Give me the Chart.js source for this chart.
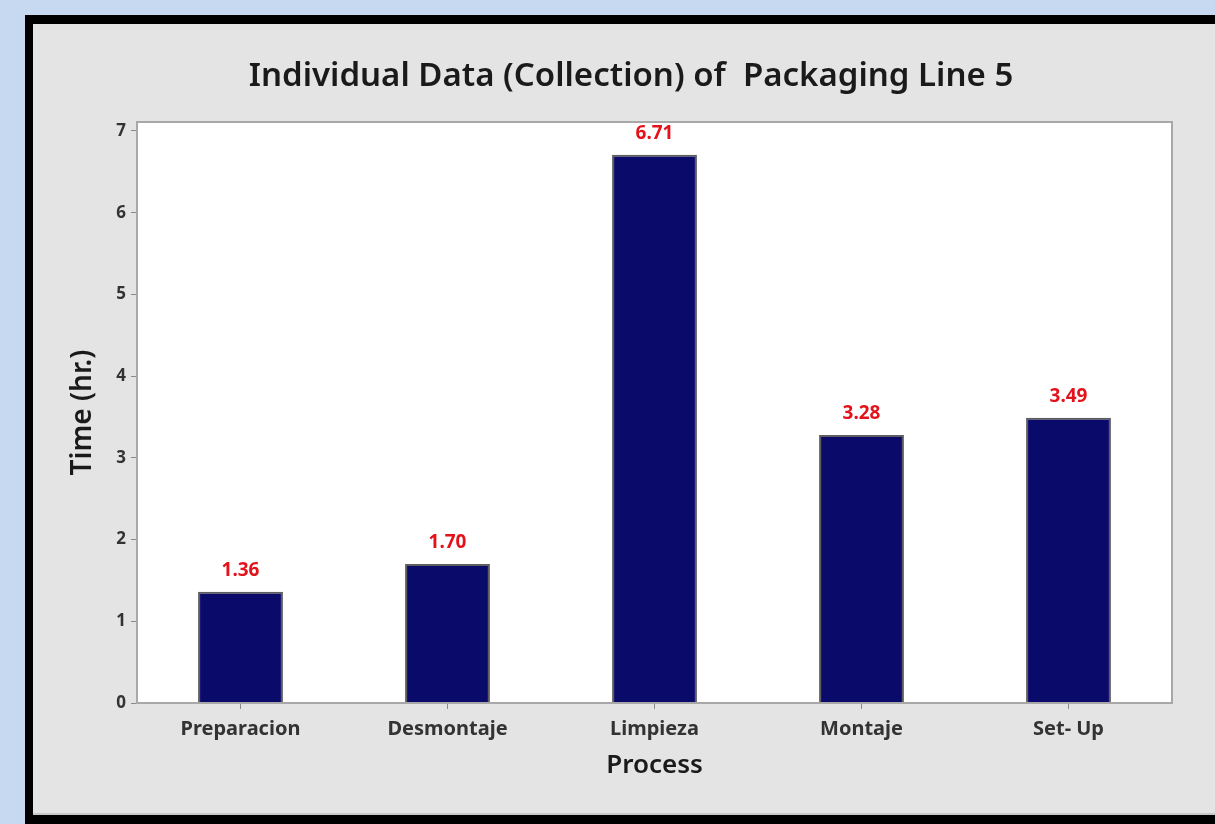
<!DOCTYPE html>
<html>
<head>
<meta charset="utf-8">
<script src="https://cdn.jsdelivr.net/npm/chart.js@4"></script>
<style>
  body { margin: 0; background: #c6d9f0; }
  canvas { display: block; }
</style>
</head>
<body>
<canvas id="myChart" width="1215" height="824"></canvas>
<script>
const processes = ['Preparacion', 'Desmontaje', 'Limpieza', 'Montaje', 'Set- Up']
const hours = [1.36, 1.70, 6.71, 3.28, 3.49]
const yTicks = [0, 1, 2, 3, 4, 5, 6, 7]
const chartTitle = 'Individual Data (Collection) of  Packaging Line 5'

const FONT = "'Noto Sans', 'Open Sans', sans-serif"

// blue page, black frame and grey panel behind the chart
const frame = {
  id: 'frame',
  beforeDraw(chart) {
    const c = chart.ctx
    c.save()
    c.fillStyle = '#c6d9f0'
    c.fillRect(0, 0, chart.width, chart.height)
    c.fillStyle = '#000'
    c.fillRect(25, 15, chart.width - 25, chart.height - 15)
    c.fillStyle = '#e4e4e4'
    c.fillRect(33, 24, chart.width - 33, 791)
    c.fillStyle = '#c8c8c8'
    c.fillRect(33, 813, chart.width - 33, 2)
    const a = chart.chartArea
    c.fillStyle = '#fff'
    c.fillRect(a.left, a.top, a.right - a.left, a.bottom - a.top)
    c.restore()
  },
  afterDraw(chart) {
    const a = chart.chartArea
    const c = chart.ctx
    c.save()
    c.strokeStyle = '#a8a8a8'
    c.lineWidth = 2
    c.strokeRect(a.left, a.top, a.right - a.left, a.bottom - a.top)
    // title, centred a bit left of the plot like the original
    c.fillStyle = '#1a1a1a'
    c.font = `600 33px ${FONT}`
    c.textAlign = 'center'
    c.textBaseline = 'middle'
    c.fillText(chartTitle, 631, 77)
    c.restore()
  }
}

// red value labels above each bar
const valueLabels = {
  id: 'valueLabels',
  afterDatasetsDraw(chart) {
    const c = chart.ctx
    const meta = chart.getDatasetMeta(0)
    c.save()
    c.fillStyle = '#e3121b'
    c.font = `bold 19px ${FONT}`
    c.textAlign = 'center'
    c.textBaseline = 'middle'
    meta.data.forEach((bar, i) => {
      c.fillText(hours[i].toFixed(2), bar.x, bar.y - 21)
    })
    c.restore()
  }
}

const ctx = document.getElementById('myChart')
new Chart(ctx, {
  type: 'bar',
  data: {
    labels: processes,
    datasets: [{
      data: hours,
      backgroundColor: '#0a0a6b',
      borderColor: '#5e5e5e',
      borderWidth: 2,
      borderSkipped: 'bottom',
      categoryPercentage: 1,
      barPercentage: 0.41
    }]
  },
  plugins: [frame, valueLabels],
  options: {
    responsive: false,
    animation: false,
    layout: { padding: { left: 33, right: 43, top: 122, bottom: 24 } },
    plugins: {
      legend: { display: false },
      tooltip: { enabled: false },
      title: { display: false }
    },
    scales: {
      x: {
        afterFit(scale) { scale.height = 97 },
        grid: { offset: false, drawOnChartArea: false, tickLength: 6, tickColor: '#8a8a8a', tickWidth: 1 },
        border: { display: false },
        ticks: { color: '#333', padding: 8, font: { family: FONT, size: 20, weight: 'bold' } },
        title: {
          display: true,
          text: 'Process',
          color: '#1a1a1a',
          font: { family: FONT, size: 26, weight: '600' },
          padding: { bottom: 19 }
        }
      },
      y: {
        min: 0,
        max: 7.11,
        afterFit(scale) { scale.width = 104 },
        afterBuildTicks(scale) {
          scale.ticks = yTicks.map(v => ({ value: v }))
        },
        grid: { drawOnChartArea: false, tickLength: 6, tickColor: '#8a8a8a', tickWidth: 1 },
        border: { display: false },
        ticks: { color: '#333', padding: 5, font: { family: FONT, size: 17, weight: 'bold' } },
        title: {
          display: true,
          text: 'Time (hr.)',
          color: '#1a1a1a',
          font: { family: FONT, size: 28, weight: '600' },
          padding: { top: 33 }
        }
      }
    }
  }
})
</script>
</body>
</html>
